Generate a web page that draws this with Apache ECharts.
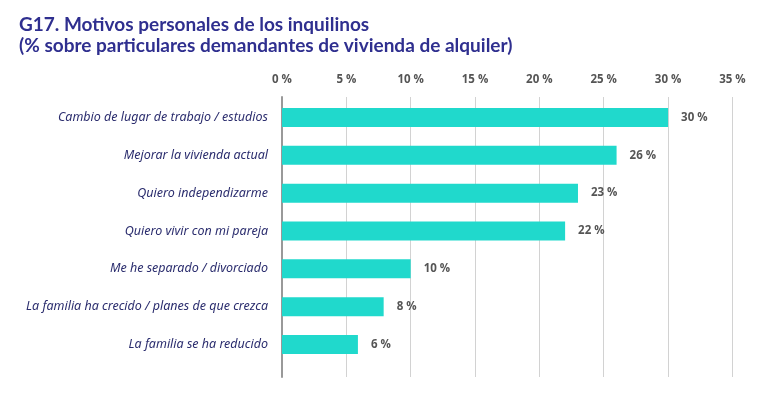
<!DOCTYPE html>
<html><head><meta charset="utf-8">
<script src="https://cdn.jsdelivr.net/npm/echarts@6/dist/echarts.min.js"></script>
<style>html,body{margin:0;padding:0;background:#fff}#c{width:774px;height:394px}</style>
</head><body><div id="c"></div>
<script>
const categories = ["Cambio de lugar de trabajo / estudios","Mejorar la vivienda actual","Quiero independizarme","Quiero vivir con mi pareja","Me he separado / divorciado","La familia ha crecido / planes de que crezca","La familia se ha reducido"];
const values = [30, 26, 23, 22, 10, 7.9, 5.9];
const xTicks = [0, 5, 10, 15, 20, 25, 30, 35];

const chart = echarts.init(document.getElementById('c'));
const xMin = xTicks[0], xMax = xTicks[xTicks.length-1], xStep = xTicks[1]-xTicks[0];
chart.setOption({
  animation: false,
  title: {
    text: 'G17. Motivos personales de los inquilinos\n(% sobre particulares demandantes de vivienda de alquiler)',
    left: 14, top: 9,
    textStyle: {fontFamily: 'Lato', fontWeight: 'bold', fontSize: 19, color: '#2f2f8f', lineHeight: 21}
  },
  grid: [
    {left: 282, right: 774-732.4, top: 97, bottom: 394-377},
    {left: 282, right: 774-732.4, top: 98.6, bottom: 394-363.4}
  ],
  xAxis: [
    {gridIndex: 0, type: 'value', position: 'top', min: xMin, max: xMax, interval: xStep,
     axisLine: {show: false}, axisTick: {show: false},
     splitLine: {lineStyle: {color: '#d2d2d2', width: 1}},
     axisLabel: {formatter: v => v + ' %', margin: 11, color: '#555', fontFamily: 'Open Sans', fontWeight: 'bold', fontSize: 11.5}},
    {gridIndex: 1, type: 'value', min: xMin, max: xMax, interval: xStep, show: false}
  ],
  yAxis: [
    {gridIndex: 0, type: 'category', data: [''], axisLabel: {show: false}, axisTick: {show: false},
     axisLine: {show: true, lineStyle: {color: '#999', width: 2}}},
    {gridIndex: 1, type: 'category', data: categories, inverse: true,
     axisLine: {show: false}, axisTick: {show: false},
     axisLabel: {margin: 14, color: '#2b2d6e', fontFamily: 'Noto Sans', fontStyle: 'italic', fontSize: 12.5}}
  ],
  series: [{
    type: 'bar', xAxisIndex: 1, yAxisIndex: 1, data: values, barWidth: 19,
    itemStyle: {color: '#20d9cc'},
    label: {show: true, position: 'right', distance: 13, formatter: p => Math.round(p.value) + ' %',
      color: '#555', fontFamily: 'Open Sans', fontWeight: 'bold', fontSize: 11.5}
  }]
});
</script></body></html>
